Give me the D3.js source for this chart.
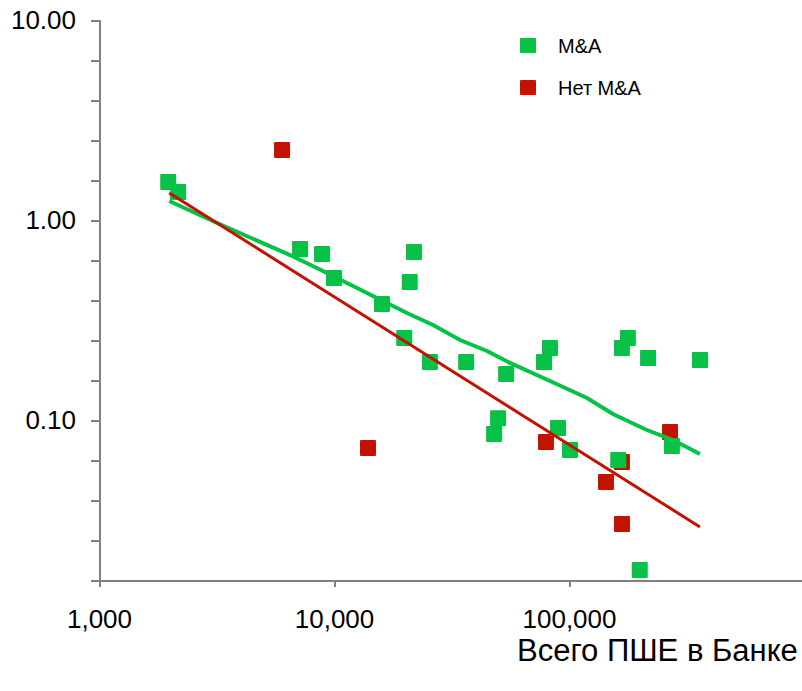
<!DOCTYPE html>
<html>
<head>
<meta charset="utf-8">
<script src="https://cdn.jsdelivr.net/npm/d3@7"></script>
<style>
  body { margin: 0; background: #fff; }
  svg { display: block; font-family: "Liberation Sans", Arial, sans-serif; }
  .axis path, .axis line { stroke: #808080; stroke-width: 2; shape-rendering: crispEdges; }
  .axis text { fill: #000; font-size: 26px; font-family: "Liberation Sans", Arial, sans-serif; }
</style>
</head>
<body>
<script>
// M&A banks
const maX = [1970, 2170, 7170, 8890, 10000, 16000, 19900, 21000, 21900, 25600, 36500, 48000, 49900, 54000,
  78300, 83000, 89800, 101000, 162000, 168000, 178000, 200000, 217000, 274000, 361000]
const maY = [1.55, 1.38, 0.716, 0.676, 0.513, 0.380, 0.257, 0.490, 0.692, 0.195, 0.195, 0.0851, 0.102, 0.170,
  0.195, 0.229, 0.0912, 0.0708, 0.0631, 0.229, 0.257, 0.0178, 0.204, 0.0741, 0.1995]

// no M&A
const noMaX = [6010, 13950, 79800, 143700, 168000, 168000, 269000]
const noMaY = [2.24, 0.0724, 0.0776, 0.049, 0.0617, 0.0302, 0.0871]

// fitted lines
const maFitX = [1990, 3180, 6500, 9340, 11140, 14650, 20440, 26380, 34380, 44790, 56100, 83000, 119300, 153800, 214600, 277100, 360700]
const maFitY = [1.245, 0.966, 0.668, 0.543, 0.490, 0.417, 0.343, 0.2985, 0.251, 0.2213, 0.193, 0.1567, 0.1288, 0.1072, 0.0891, 0.0794, 0.0676]
const noMaFitX = [1990, 360700]
const noMaFitY = [1.365, 0.0292]

const xTicks = [1000, 10000, 100000]
const yTicks = d3.range(-1.8, 1.0001, 0.2).map(e => Math.pow(10, e))
const legendNames = ['M&A', 'Нет M&A']

const green = '#07c246'
const red = '#c21300'

const width = 802, height = 691

let svg = d3.select('body')
  .append('svg')
  .attr('width', width)
  .attr('height', height)

let xScale = d3.scaleLog().domain([1000, 1000000]).range([99, 804])
let yScale = d3.scaleLog().domain([Math.pow(10, -1.8), 10]).range([580, 20])

//y axis
svg.append('g')
  .attr('class', 'axis')
  .attr('transform', 'translate(' + xScale(1000) + ',0)')
  .call(d3.axisLeft(yScale)
    .tickValues(yTicks)
    .tickSize(8)
    .tickPadding(15)
    .tickFormat(d => {
      let e = Math.log10(d)
      return Math.abs(e - Math.round(e)) < 1e-6 ? d3.format('.2f')(d) : ''
    }))

//x axis
svg.append('g')
  .attr('class', 'axis')
  .attr('transform', 'translate(0,' + yScale.range()[0] + ')')
  .call(d3.axisBottom(xScale)
    .tickValues(xTicks)
    .tickSizeInner(7)
    .tickSizeOuter(0)
    .tickPadding(23)
    .tickFormat(d3.format(',')))

//x label
svg.append('text')
  .attr('x', 517)
  .attr('y', 661)
  .style('font-size', '31px')
  .text('Всего ПШЕ в Банке')

const sq = 16

//red points
svg.append('g')
  .selectAll('rect')
  .data(noMaX.map((x, i) => [x, noMaY[i]]))
  .enter()
  .append('rect')
  .attr('x', d => xScale(d[0]) - sq / 2)
  .attr('y', d => yScale(d[1]) - sq / 2)
  .attr('width', sq)
  .attr('height', sq)
  .attr('rx', 1)
  .attr('fill', red)

//green points
svg.append('g')
  .selectAll('rect')
  .data(maX.map((x, i) => [x, maY[i]]))
  .enter()
  .append('rect')
  .attr('x', d => xScale(d[0]) - sq / 2)
  .attr('y', d => yScale(d[1]) - sq / 2)
  .attr('width', sq)
  .attr('height', sq)
  .attr('rx', 1)
  .attr('fill', green)

let line = d3.line()
  .x(d => xScale(d[0]))
  .y(d => yScale(d[1]))

svg.append('path')
  .datum(maFitX.map((x, i) => [x, maFitY[i]]))
  .attr('d', line)
  .attr('fill', 'none')
  .attr('stroke', green)
  .attr('stroke-width', 4)

svg.append('path')
  .datum(noMaFitX.map((x, i) => [x, noMaFitY[i]]))
  .attr('d', line)
  .attr('fill', 'none')
  .attr('stroke', red)
  .attr('stroke-width', 3)

//legend
let legend = svg.append('g')
  .selectAll('g')
  .data(legendNames)
  .enter()
  .append('g')
  .attr('transform', (d, i) => 'translate(520,' + (38 + i * 42) + ')')

legend.append('rect')
  .attr('width', 16)
  .attr('height', 15)
  .attr('rx', 1)
  .attr('fill', (d, i) => i === 0 ? green : red)

legend.append('text')
  .attr('x', 38)
  .attr('y', 15)
  .style('font-size', '20px')
  .text(d => d)
</script>
</body>
</html>
